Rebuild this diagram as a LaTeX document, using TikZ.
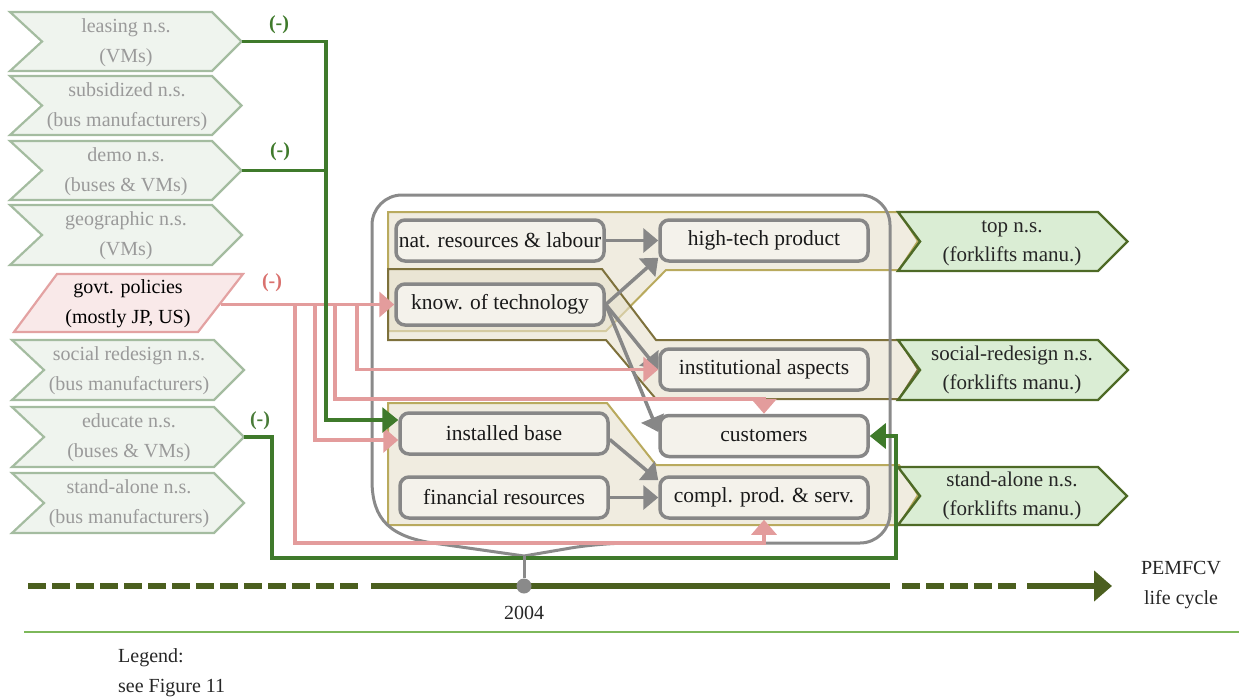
\documentclass[tikz,border=0pt]{standalone}
\usepackage{fontspec}
\setmainfont{Liberation Serif}
\usetikzlibrary{arrows.meta,calc}

\definecolor{nsfill}{HTML}{EFF4EE}
\definecolor{nsline}{HTML}{A4BCA0}
\definecolor{nstext}{HTML}{9A9A9A}
\definecolor{govfill}{HTML}{F9E9E9}
\definecolor{govline}{HTML}{E3A2A2}
\definecolor{pinkline}{HTML}{E39C9C}
\definecolor{minusred}{HTML}{D9716E}
\definecolor{darkgreen}{HTML}{3F7A2B}
\definecolor{boxgray}{HTML}{878787}
\definecolor{boxfill}{HTML}{F4F2EB}
\definecolor{contgray}{HTML}{8A8A8A}
\definecolor{olivelight}{HTML}{B9AA5E}
\definecolor{olivedark}{HTML}{7E713C}
\definecolor{bandfill}{HTML}{E6E0CC}
\definecolor{fkfill}{HTML}{DAEDD4}
\definecolor{fkline}{HTML}{4E6A26}
\definecolor{timeline}{HTML}{4B5F1F}
\definecolor{legendgreen}{HTML}{7DB85A}

% chevron: style, x left, x top-right, y top, y bottom, notch depth
\newcommand\chevron[6]{%
  \draw[#1] (#2,#4) -- (#3,#4) -- ({#3+(#5-#4)/2},{(#4+#5)/2}) -- (#3,#5)
    -- (#2,#5) -- ({#2+#6},{(#4+#5)/2}) -- cycle;}

\begin{document}
\begin{tikzpicture}[x=1pt,y=-1pt,
  nsshape/.style={draw=nsline, line width=2.2pt, fill=nsfill, line join=miter},
  nstext/.style={text=nstext, align=center, inner sep=0pt,
    font=\rmfamily\fontsize{20}{30}\selectfont},
  fkshape/.style={draw=fkline, line width=2.4pt, fill=fkfill, line join=miter},
  fktext/.style={text=black!85, align=center, inner sep=0pt,
    font=\rmfamily\fontsize{21}{29}\selectfont},
  bandA/.style={draw=olivelight, line width=2pt, fill=bandfill, fill opacity=0.6},
  bandB/.style={draw=olivedark, line width=2pt, fill=bandfill, fill opacity=0.6},
  contline/.style={draw=contgray, line width=3pt},
  box/.style={draw=boxgray, line width=3.5pt, fill=boxfill, rounded corners=9pt,
    minimum width=208pt, minimum height=41pt, inner sep=0pt, text=black!90,
    font=\rmfamily\fontsize{21.5}{26}\selectfont},
  grayarrow/.style={draw=boxgray, line width=3.5pt, -{Triangle[length=15pt,width=24pt]}},
  pinkarrow/.style={draw=pinkline, line width=3.5pt, -{Triangle[length=15pt,width=25pt]}},
  greenarrow/.style={draw=darkgreen, line width=3.2pt, -{Triangle[length=16pt,width=25pt]}},
  greenline/.style={draw=darkgreen, line width=3.2pt},
  minus/.style={font=\rmfamily\bfseries\fontsize{20}{24}\selectfont, inner sep=0pt},
  tl/.style={draw=timeline, line width=6pt},
  plain/.style={font=\rmfamily\fontsize{20}{30}\selectfont, align=center, inner sep=0pt, text=black!85}
]
\useasboundingbox (0,0) rectangle (1239,699);

% ---------- left column: network strategies ----------
\chevron{nsshape}{10}{212}{12}{71}{32}
\chevron{nsshape}{10}{212}{76}{135}{32}
\chevron{nsshape}{10}{212}{141}{200}{32}
\chevron{nsshape}{10}{212}{205}{265}{32}
\chevron{nsshape}{12}{214}{340}{400}{32}
\chevron{nsshape}{12}{214}{407}{467}{32}
\chevron{nsshape}{12}{214}{473}{533}{32}

\node[nstext] (leasing) at (126,43) {leasing n.s.\\(VMs)};
\node[nstext] (subsid) at (127,107) {subsidized n.s.\\(bus manufacturers)};
\node[nstext] (demo) at (126,172) {demo n.s.\\(buses \& VMs)};
\node[nstext] (geo) at (126,236) {geographic n.s.\\(VMs)};
\node[nstext] (socialns) at (129,371) {social redesign n.s.\\(bus manufacturers)};
\node[nstext] (educ) at (129,438) {educate n.s.\\(buses \& VMs)};
\node[nstext] (standns) at (129,504) {stand-alone n.s.\\(bus manufacturers)};

\coordinate (leasing-tip) at (241.5,41.5);
\coordinate (demo-tip) at (241.5,170.5);
\coordinate (educ-tip) at (244,437);

% government policies
\draw[draw=govline, fill=govfill, line width=2.2pt, line join=miter]
  (14,332) -- (57,274) -- (243,274) -- (198,332) -- cycle;
\node[plain, text=black] (govt) at (128,304) {govt. policies\\(mostly JP, US)};
\coordinate (govt-out) at (221,304.5);

% ---------- bands ----------
\draw[bandA] (388,212) -- (899,212) -- (918,241) -- (899,270) -- (666,270)
  -- (606,331) -- (388,331) -- cycle;
\draw[bandB] (388,269) -- (602,269) -- (656,340) -- (899,340) -- (918,369.5)
  -- (899,399) -- (656,399) -- (606,340) -- (388,340) -- cycle;
\draw[bandA] (388,403) -- (607,403) -- (656,465) -- (899,465) -- (918,495)
  -- (899,525) -- (388,525) -- cycle;

% ---------- container ----------
\coordinate (brace-tip) at (524,556);
\draw[contline] (372,480) [rounded corners=30pt] -- (372,195) -- (890,195)
  -- (890,543) -- (600,543) [sharp corners] -- (brace-tip) -- (440,544)
  .. controls (390,538) and (372,520) .. (372,480);

% ---------- right column: forklift strategies ----------
\chevron{fkshape}{898}{1098}{212}{271}{22}
\chevron{fkshape}{898}{1098}{340}{400}{22}
\chevron{fkshape}{898}{1098}{467}{525}{22}
\node[fktext] (topns) at (1012,243) {top n.s.\\(forklifts manu.)};
\node[fktext] (socfk) at (1012,370) {social-redesign n.s.\\(forklifts manu.)};
\node[fktext] (standfk) at (1012,496) {stand-alone n.s.\\(forklifts manu.)};

% ---------- resource boxes ----------
\node[box] (nat) at (500,240.5) {nat. resources \& labour};
\node[box] (high) at (764,240.5) {high-tech product};
\node[box] (know) at (500,304.5) {know. of technology};
\node[box] (inst) at (764,369.5) {institutional aspects};
\node[box] (cust) at (764,436) {customers};
\node[box] (instb) at (504,433.5) {installed base};
\node[box] (fin) at (504,497.5) {financial resources};
\node[box] (compl) at (764,497.5) {compl. prod. \& serv.};

\draw[grayarrow] (nat.east) -- (high.west);
\draw[grayarrow] (know.east) -- ([shift={(0,-5)}]high.south west);
\draw[grayarrow] (know.east) -- (inst.west);
\draw[grayarrow] (know.east) -- ([shift={(0,-4)}]cust.west);
\draw[grayarrow] ([shift={(0,6)}]instb.east) -- ([shift={(0,5)}]compl.north west);
\draw[grayarrow] (fin.east) -- (compl.west);

% ---------- policy influences ----------
\draw[pinkarrow] (govt-out) -- (know.west);
\draw[pinkarrow] (govt-out) -- ++(136,0) |- (inst.west);
\draw[pinkarrow] (govt-out) -- ++(114,0) -- ++(0,94.5) -| (cust.north);
\draw[pinkarrow] (govt-out) -- ++(94,0) |- ([shift={(0,6.5)}]instb.west);
\draw[pinkarrow] (govt-out) -- ++(74,0) -- ++(0,238.5) -| (compl.south);
\node[minus, text=minusred] (m-govt) at (272,283) {(-)};

% ---------- network strategy influences ----------
\draw[greenline] (demo-tip) -- ++(84.5,0);
\draw[greenarrow] (leasing-tip) -- ++(84.5,0) |- ([shift={(0,-13.5)}]instb.west);
\draw[greenarrow] (educ-tip) -- ++(28,0) -- ++(0,121) -- ++(624,0) |- (cust.east);
\node[minus, text=darkgreen] (m-leasing) at (279,25) {(-)};
\node[minus, text=darkgreen] (m-demo) at (280,152) {(-)};
\node[minus, text=darkgreen!85!gray] (m-educ) at (260,421) {(-)};

% ---------- life cycle ----------
\draw[tl, dash pattern=on 18pt off 6pt] (28,586) -- (362,586);
\draw[tl] (371,586) -- (890,586);
\draw[tl, dash pattern=on 18pt off 6pt] (902,586) -- (1019,586);
\draw[tl, -{Triangle[length=18pt,width=30pt]}] (1027,586) -- (1112,586);
\node[circle, fill=contgray, minimum size=15pt, inner sep=0pt] (y2004) at (524,586) {};
\draw[contline] (brace-tip) -- (y2004.north);
\node[plain] (year) at (524,613) {2004};
\node[plain] (lc) at (1181,585) {PEMFCV\\life cycle};

% ---------- legend ----------
\draw[draw=legendgreen, line width=2pt] (24,632) -- (1239,632);
\node[plain, anchor=west] (leg1) at (118,658) {Legend:};
\node[plain, anchor=west] (leg2) at (118,688) {see Figure 11};
\end{tikzpicture}
\end{document}
